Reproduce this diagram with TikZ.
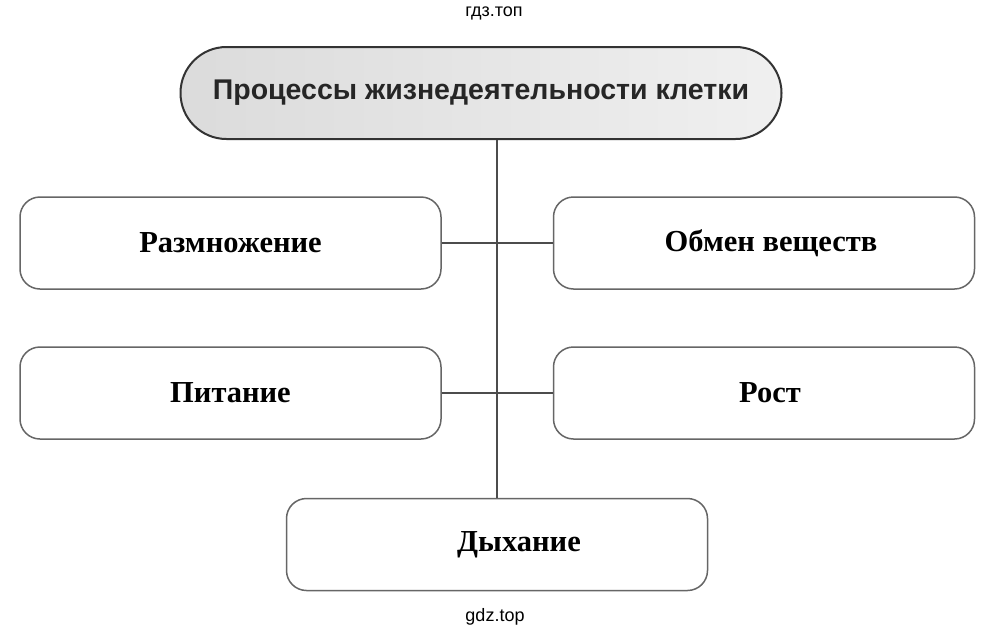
\documentclass[tikz,border=0pt]{standalone}
\usepackage{fontspec}
\setmainfont{Liberation Serif}
\setsansfont{Liberation Sans}
\usetikzlibrary{positioning}
\tikzset{
procbox/.style={draw=black!60, line width=1.5pt, rounded corners=20pt, minimum width=421pt, minimum height=92pt, font=\bfseries\fontsize{30.5}{34}\selectfont}, % the five boxes
titlebox/.style={draw=black!80, line width=2pt, rounded corners=46pt, minimum width=601pt, minimum height=92pt, left color=gray!28, right color=gray!12, text=black!85, font=\sffamily\bfseries\fontsize{28.5}{32}\selectfont}, % the head of the scheme
mark text/.style={font=\sffamily\fontsize{18}{20}\selectfont}, % site marks
}
\begin{document}
\begin{tikzpicture}[x=1pt, y=-1pt, line width=1.5pt]
\useasboundingbox[fill=white] (0,0) rectangle (992,637);
\node[titlebox] (title) at (481,93) {Процессы жизнедеятельности клетки};
\node[procbox] (razm) at (230.5,243) {Размножение};
\node[procbox] (obmen) at (764,243) {\hspace{14pt}Обмен веществ};
\node[procbox] (pit) at (230.5,393) {Питание};
\node[procbox] (rost) at (764,393) {\hspace{12pt}Рост};
\node[procbox] (dyh) at (497,544.5) {\hspace{44pt}Дыхание};
\node[mark text] (top) at (494,13) {гдз.топ};
\node[mark text] (bottom) at (495,617) {gdz.top};
\draw[black!70, line width=1.8pt]
(title.south -| dyh.north) -- (dyh.north)
(razm.east) -- (obmen.west)
(pit.east) -- (rost.west)
;
\end{tikzpicture}
\end{document}
